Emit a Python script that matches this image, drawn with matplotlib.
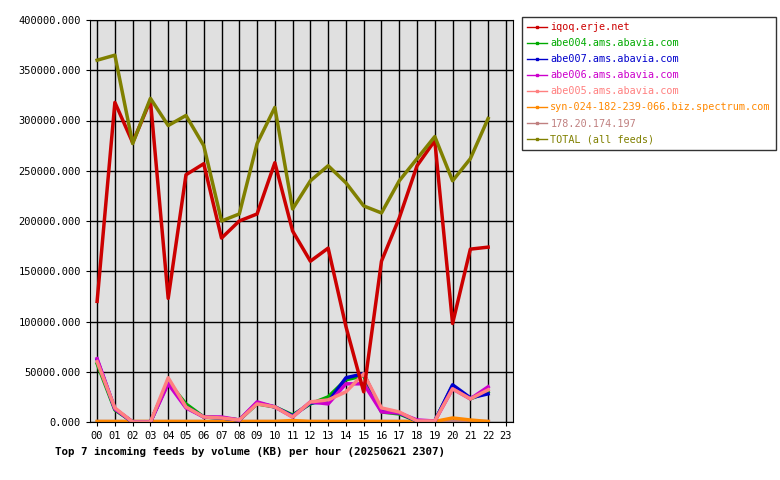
import matplotlib
matplotlib.use("Agg")
import matplotlib.pyplot as plt
from matplotlib.ticker import FuncFormatter

hours = list(range(23))
hour_labels = [f"{h:02d}" for h in range(24)]

iqoq = [120000, 318000, 278000, 320000, 123000, 246000, 257000, 183000, 200000, 207000, 258000, 190000,
        160000, 173000, 95000, 30000, 160000, 203000, 255000, 280000, 98000, 172000, 174000]
abe004 = [58000, 12000, 0, 0, 40000, 18000, 5000, 4000, 2000, 18000, 15000, 7000,
          18000, 25000, 42000, 46000, 10000, 8000, 1000, 1000, 36000, 23000, 30000]
abe007 = [62000, 13000, 0, 0, 40000, 15000, 5000, 4000, 2000, 19000, 15000, 6000,
          19000, 20000, 44000, 48000, 11000, 9000, 1000, 1000, 37000, 24000, 28000]
abe006 = [63000, 13000, 0, 0, 38000, 14000, 5000, 5000, 2000, 20000, 15000, 5000,
          20000, 18000, 38000, 38000, 10000, 9000, 2000, 1000, 33000, 23000, 35000]
abe005 = [60000, 14000, 0, 0, 44000, 15000, 5000, 4000, 2000, 18000, 15000, 5000,
          20000, 22000, 30000, 48000, 14000, 10000, 1000, 1000, 33000, 23000, 32000]
syn = [500, 500, 500, 500, 500, 500, 500, 500, 500, 500, 500, 1500,
       500, 500, 500, 500, 500, 500, 500, 500, 4000, 2000, 500]
ip178 = [1000] * 23
total = [360000, 365000, 277000, 322000, 295000, 305000, 275000, 200000, 207000, 277000, 313000, 212000,
         240000, 255000, 238000, 215000, 208000, 240000, 262000, 284000, 240000, 262000, 302000]

series = [
    ("iqoq.erje.net", iqoq, "#cc0000"),
    ("abe004.ams.abavia.com", abe004, "#00aa00"),
    ("abe007.ams.abavia.com", abe007, "#0000cc"),
    ("abe006.ams.abavia.com", abe006, "#cc00cc"),
    ("abe005.ams.abavia.com", abe005, "#ff8080"),
    ("syn-024-182-239-066.biz.spectrum.com", syn, "#ff8800"),
    ("178.20.174.197", ip178, "#c08080"),
    ("TOTAL (all feeds)", total, "#808000"),
]

plt.rcParams["font.family"] = "DejaVu Sans Mono"
fig = plt.figure(figsize=(7.8, 4.8), dpi=100)
ax = fig.add_axes([90 / 780, 58 / 480, 423 / 780, 402 / 480])
ax.set_facecolor("#e0e0e0")

draw_order = [6, 5, 1, 2, 3, 4, 0, 7]
for i in draw_order:
    name, vals, col = series[i]
    ax.plot(hours, vals, color=col, lw=2.5)

ax.set_xlim(-0.4, 23.4)
ax.set_ylim(0, 400000)
ax.set_xticks(range(24))
ax.set_xticklabels(hour_labels, fontsize=7.5)
ax.set_yticks(range(0, 400001, 50000))
ax.yaxis.set_major_formatter(FuncFormatter(lambda v, p: f"{v:.3f}"))
ax.tick_params(labelsize=7.5, length=3)
ax.grid(True, color="black", lw=1)
ax.set_axisbelow(True)

leg_lines = [plt.Line2D([], [], color=c, lw=1, marker="s", markersize=2) for _, _, c in series]
leg = fig.legend(leg_lines, [n for n, _, _ in series], loc="upper left",
                 bbox_to_anchor=(522 / 780, 1 - 17 / 480), fontsize=7.3, frameon=True,
                 fancybox=False, edgecolor="black", handlelength=2.0, labelspacing=0.6,
                 borderpad=0.5, handletextpad=0.3, borderaxespad=0)
leg.get_frame().set_linewidth(1)
for txt, (_, _, c) in zip(leg.get_texts(), series):
    txt.set_color(c)

fig.text(55 / 780, 1 - 452 / 480, "Top 7 incoming feeds by volume (KB) per hour (20250621 2307)",
         fontsize=7.8, fontweight="bold", va="center")

fig.savefig("out.png", dpi=100)
